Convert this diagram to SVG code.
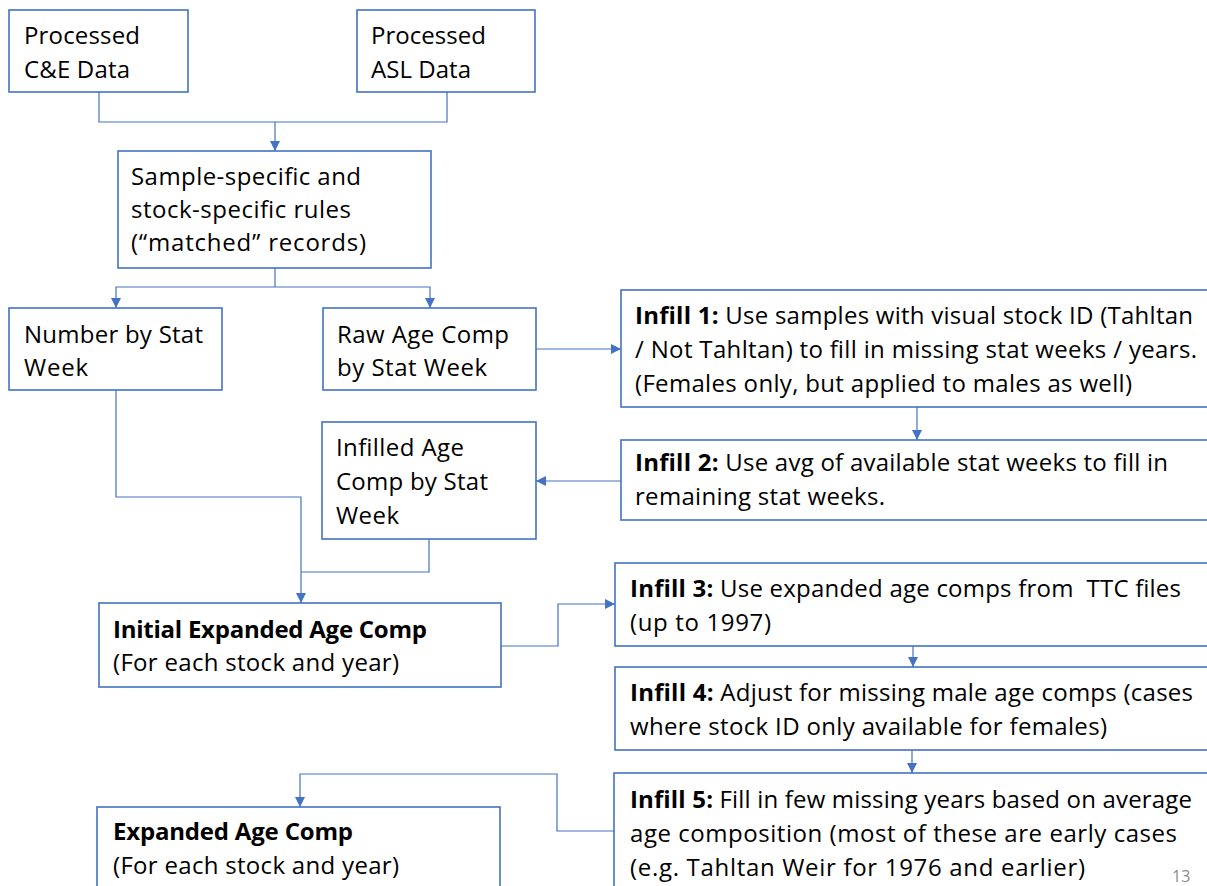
<svg xmlns="http://www.w3.org/2000/svg" width="1207" height="886" viewBox="0 0 1207 886">
  <style>
    .box { fill: #ffffff; stroke: #4472C4; stroke-width: 1.6; }
    .lbl { font-family: "Open Sans", "Liberation Sans", sans-serif; font-size: 24px; fill: #000000; }
    .b { font-weight: bold; }
    .wire { fill: none; stroke: #4472C4; stroke-width: 1.2; }
    .arr { marker-end: url(#head); }
    .pg { font-family: "Open Sans", "Liberation Sans", sans-serif; font-size: 16px; fill: #8c8c8c; }
  </style>
  <defs>
    <marker id="head" viewBox="0 0 10 10" refX="10" refY="5" markerWidth="10" markerHeight="10" markerUnits="userSpaceOnUse" orient="auto">
      <path d="M0,0 L10,5 L0,10 Z" fill="#4472C4"/>
    </marker>
  </defs>
  <rect width="1207" height="886" fill="#ffffff"/>

  <!-- connectors -->
  <g id="connectors">
    <polyline class="wire" points="99,92 99,122 447,122 447,92"/>
    <line class="wire arr" x1="275" y1="122" x2="275" y2="151"/>
    <line class="wire" x1="275" y1="268" x2="275" y2="287"/>
    <polyline class="wire arr" points="275,287 116,287 116,308"/>
    <polyline class="wire arr" points="275,287 430,287 430,308"/>
    <line class="wire arr" x1="536" y1="349" x2="621" y2="349"/>
    <line class="wire arr" x1="917" y1="407" x2="917" y2="440"/>
    <line class="wire arr" x1="621" y1="481" x2="536" y2="481"/>
    <polyline class="wire" points="116,390 116,497 301,497 301,572"/>
    <polyline class="wire" points="429,539 429,572 301,572"/>
    <line class="wire arr" x1="301" y1="572" x2="301" y2="603"/>
    <polyline class="wire arr" points="501,646 558,646 558,604 615,604"/>
    <line class="wire arr" x1="913" y1="646" x2="913" y2="667"/>
    <line class="wire arr" x1="912" y1="750" x2="912" y2="773"/>
    <polyline class="wire arr" points="614,831 557,831 557,774 300,774 300,807"/>
  </g>

  <g id="ce-data">
    <rect class="box" x="9" y="10" width="179" height="82"/>
    <text class="lbl" x="24" y="44" textLength="116">Processed</text>
    <text class="lbl" x="24" y="78" textLength="106">C&amp;E Data</text>
  </g>

  <g id="asl-data">
    <rect class="box" x="357" y="10" width="178" height="82"/>
    <text class="lbl" x="371" y="44" textLength="115">Processed</text>
    <text class="lbl" x="371" y="78" textLength="100">ASL Data</text>
  </g>

  <g id="rules">
    <rect class="box" x="118" y="151" width="313" height="117"/>
    <text class="lbl" x="131" y="185" textLength="230">Sample-specific and</text>
    <text class="lbl" x="131" y="218" textLength="220">stock-specific rules</text>
    <text class="lbl" x="131" y="251" textLength="235">(“matched” records)</text>
  </g>

  <g id="number-by-week">
    <rect class="box" x="9" y="308" width="213" height="82"/>
    <text class="lbl" x="24" y="343" textLength="179">Number by Stat</text>
    <text class="lbl" x="24" y="376" textLength="64">Week</text>
  </g>

  <g id="raw-age-comp">
    <rect class="box" x="323" y="308" width="213" height="82"/>
    <text class="lbl" x="337" y="343" textLength="172">Raw Age Comp</text>
    <text class="lbl" x="337" y="376" textLength="150">by Stat Week</text>
  </g>

  <g id="infill-1">
    <rect class="box" x="621" y="290" width="600" height="117"/>
    <text class="lbl" x="635" y="324" textLength="558"><tspan class="b">Infill 1:</tspan> Use samples with visual stock ID (Tahltan</text>
    <text class="lbl" x="635" y="358" textLength="562">/ Not Tahltan) to fill in missing stat weeks / years.</text>
    <text class="lbl" x="635" y="392" textLength="497">(Females only, but applied to males as well)</text>
  </g>

  <g id="infill-2">
    <rect class="box" x="621" y="440" width="600" height="80"/>
    <text class="lbl" x="635" y="471" textLength="533"><tspan class="b">Infill 2:</tspan> Use avg of available stat weeks to fill in</text>
    <text class="lbl" x="635" y="505" textLength="250">remaining stat weeks.</text>
  </g>

  <g id="infilled-age-comp">
    <rect class="box" x="322" y="422" width="214" height="117"/>
    <text class="lbl" x="336" y="456" textLength="128">Infilled Age</text>
    <text class="lbl" x="336" y="490" textLength="152">Comp by Stat</text>
    <text class="lbl" x="336" y="524" textLength="63">Week</text>
  </g>

  <g id="initial-expanded">
    <rect class="box" x="99" y="603" width="402" height="84"/>
    <text class="lbl b" x="113" y="638" textLength="314">Initial Expanded Age Comp</text>
    <text class="lbl" x="113" y="671" textLength="286">(For each stock and year)</text>
  </g>

  <g id="infill-3">
    <rect class="box" x="615" y="563" width="600" height="83"/>
    <text class="lbl" x="630" y="597" textLength="551"><tspan class="b">Infill 3:</tspan> Use expanded age comps from&#160; TTC files</text>
    <text class="lbl" x="630" y="631" textLength="141">(up to 1997)</text>
  </g>

  <g id="infill-4">
    <rect class="box" x="615" y="667" width="600" height="83"/>
    <text class="lbl" x="630" y="701" textLength="563"><tspan class="b">Infill 4:</tspan> Adjust for missing male age comps (cases</text>
    <text class="lbl" x="630" y="735" textLength="477">where stock ID only available for females)</text>
  </g>

  <g id="infill-5">
    <rect class="box" x="614" y="773" width="600" height="130"/>
    <text class="lbl" x="630" y="808" textLength="562"><tspan class="b">Infill 5:</tspan> Fill in few missing years based on average</text>
    <text class="lbl" x="630" y="842" textLength="547">age composition (most of these are early cases</text>
    <text class="lbl" x="630" y="876" textLength="455">(e.g. Tahltan Weir for 1976 and earlier)</text>
  </g>

  <g id="expanded">
    <rect class="box" x="97" y="807" width="403" height="100"/>
    <text class="lbl b" x="113" y="840" textLength="240">Expanded Age Comp</text>
    <text class="lbl" x="113" y="874" textLength="286">(For each stock and year)</text>
  </g>

  <text class="pg" x="1172" y="882">13</text>
</svg>
